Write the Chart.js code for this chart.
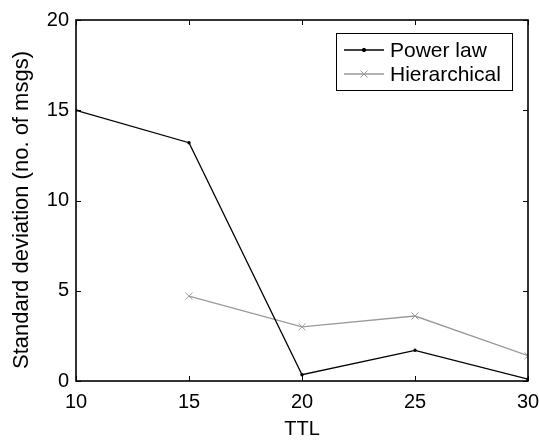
<!DOCTYPE html>
<html>
<head>
<meta charset="utf-8">
<script src="https://cdn.jsdelivr.net/npm/chart.js@4.4.1/dist/chart.umd.min.js"></script>
<style>
  html, body { margin: 0; padding: 0; background: #fff; }
  #wrap { width: 539px; height: 440px; position: relative; }
</style>
</head>
<body>
<div id="wrap"><canvas id="chart"></canvas></div>
<script>
const ttl = [10, 15, 20, 25, 30];
const powerLaw = [15.0, 13.2, 0.35, 1.7, 0.1];
const hierarchical = [null, 4.7, 3.0, 3.6, 1.4];
const xTicks = [10, 15, 20, 25, 30];
const yTicks = [0, 5, 10, 15, 20];
const yTitle = 'Standard deviation (no. of msgs)';

const FONT = 'Liberation Sans, Arial, Helvetica, sans-serif';
const GRAY = '#9a9a9a';

// MATLAB-like box with inward ticks on all four sides, plus the y label
const boxPlugin = {
  id: 'box',
  afterDatasetsDraw(chart) {
    const { ctx, chartArea: a, scales } = chart;
    ctx.save();
    ctx.strokeStyle = '#000';
    ctx.lineWidth = 1.6;
    ctx.strokeRect(a.left, a.top, a.right - a.left, a.bottom - a.top);
    ctx.lineWidth = 1;
    const len = 5;
    xTicks.forEach(v => {
      const x = Math.round(scales.x.getPixelForValue(v)) + 0.5;
      ctx.beginPath();
      ctx.moveTo(x, a.bottom); ctx.lineTo(x, a.bottom - len);
      ctx.moveTo(x, a.top); ctx.lineTo(x, a.top + len);
      ctx.stroke();
    });
    yTicks.forEach(v => {
      const y = Math.round(scales.y.getPixelForValue(v)) + 0.5;
      ctx.beginPath();
      ctx.moveTo(a.left, y); ctx.lineTo(a.left + len, y);
      ctx.moveTo(a.right, y); ctx.lineTo(a.right - len, y);
      ctx.stroke();
    });

    // y axis label, rotated
    ctx.translate(28, 210);
    ctx.rotate(-Math.PI / 2);
    ctx.fillStyle = '#000';
    ctx.font = '22px ' + FONT;
    ctx.textAlign = 'center';
    ctx.textBaseline = 'alphabetic';
    ctx.fillText(yTitle, 0, 0);
    ctx.restore();
  }
};

// legend box in the upper right, drawn from the dataset styles
const legendPlugin = {
  id: 'matlabLegend',
  afterDraw(chart) {
    const { ctx } = chart;
    const x0 = 336, y0 = 33, w = 176, h = 57;
    ctx.save();
    ctx.fillStyle = '#fff';
    ctx.fillRect(x0, y0, w, h);
    ctx.strokeStyle = '#000';
    ctx.lineWidth = 1;
    ctx.strokeRect(x0 + 0.5, y0 + 0.5, w, h);
    ctx.font = '21px ' + FONT;
    ctx.textBaseline = 'middle';
    chart.data.datasets.forEach((ds, i) => {
      const y = y0 + 17 + i * 24;
      ctx.strokeStyle = ds.borderColor;
      ctx.fillStyle = ds.backgroundColor;
      ctx.lineWidth = ds.borderWidth;
      ctx.beginPath();
      ctx.moveTo(x0 + 8, y); ctx.lineTo(x0 + 48, y);
      ctx.stroke();
      ctx.lineWidth = 1;
      Chart.helpers.drawPoint(ctx, {
        pointStyle: ds.pointStyle, radius: ds.pointRadius, borderWidth: 1
      }, x0 + 28, y);
      ctx.fillStyle = '#000';
      ctx.fillText(ds.label, x0 + 54, y + 1);
    });
    ctx.restore();
  }
};

new Chart(document.getElementById('chart'), {
  type: 'line',
  data: {
    datasets: [
      {
        label: 'Power law',
        data: ttl.map((t, i) => ({ x: t, y: powerLaw[i] })),
        borderColor: '#000',
        backgroundColor: '#000',
        borderWidth: 1.3,
        pointStyle: 'circle',
        pointRadius: 1.7,
        pointBorderWidth: 0,
        tension: 0
      },
      {
        label: 'Hierarchical',
        data: ttl.map((t, i) => ({ x: t, y: hierarchical[i] })).filter(p => p.y !== null),
        borderColor: GRAY,
        backgroundColor: GRAY,
        borderWidth: 1.3,
        pointStyle: 'crossRot',
        pointRadius: 5,
        pointBorderWidth: 1,
        tension: 0
      }
    ]
  },
  options: {
    responsive: true,
    maintainAspectRatio: false,
    animation: false,
    layout: { padding: { top: 20, right: 11, left: 0, bottom: 0 } },
    plugins: {
      legend: { display: false },
      tooltip: { enabled: false }
    },
    scales: {
      x: {
        type: 'linear',
        min: 10, max: 30,
        afterBuildTicks: s => { s.ticks = xTicks.map(v => ({ value: v })); },
        grid: { display: false, drawTicks: false },
        border: { display: false },
        ticks: { color: '#000', font: { family: FONT, size: 20 }, padding: 9 },
        title: { display: true, text: 'TTL', color: '#000', font: { family: FONT, size: 20 }, padding: { top: 0, bottom: -1 } },
        afterFit: s => { s.height = 59; s.paddingLeft = 0; s.paddingRight = 0; }
      },
      y: {
        min: 0, max: 20,
        afterBuildTicks: s => { s.ticks = yTicks.map(v => ({ value: v })); },
        grid: { display: false, drawTicks: false },
        border: { display: false },
        ticks: { color: '#000', font: { family: FONT, size: 20 }, padding: 7 },
        afterFit: s => { s.width = 76; s.paddingTop = 0; s.paddingBottom = 0; }
      }
    }
  },
  plugins: [boxPlugin, legendPlugin]
});
</script>
</body>
</html>
